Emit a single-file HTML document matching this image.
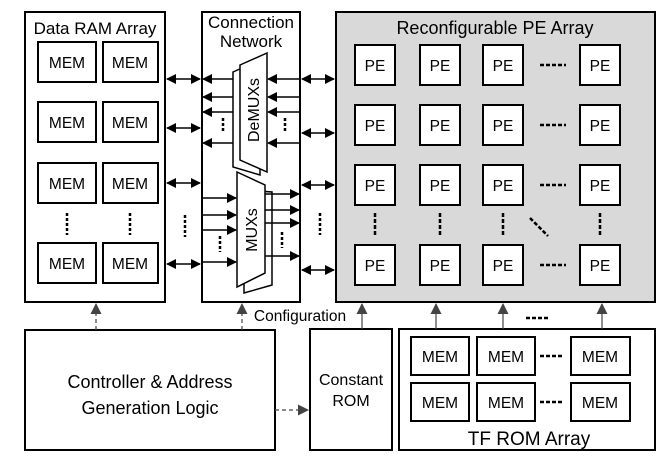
<!DOCTYPE html>
<html><head><meta charset="utf-8"><style>
html,body{margin:0;padding:0;background:#fff;}
svg{display:block;font-family:"Liberation Sans","DejaVu Sans",sans-serif;}
</style></head><body>
<svg width="669" height="462" viewBox="0 0 669 462" xmlns="http://www.w3.org/2000/svg">
<defs>
<marker id="a" markerWidth="10" markerHeight="10" refX="9" refY="5" orient="auto" markerUnits="userSpaceOnUse"><path d="M0,0 L10,5 L0,10 z" fill="#000"/></marker>
<marker id="as" markerWidth="10" markerHeight="10" refX="1" refY="5" orient="auto" markerUnits="userSpaceOnUse"><path d="M10,0 L0,5 L10,10 z" fill="#000"/></marker>
<marker id="g" markerWidth="11" markerHeight="11" refX="10" refY="5.5" orient="auto" markerUnits="userSpaceOnUse"><path d="M0,0 L11,5.5 L0,11 z" fill="#444"/></marker>
</defs>
<g stroke="#000" stroke-width="2" fill="#fff">
<rect x="25" y="12" width="140" height="290"/>
<rect x="202" y="12" width="98" height="290"/>
<rect x="336" y="12" width="319" height="290" fill="#d9d9d9"/>
<rect x="25" y="330" width="250" height="120"/>
<rect x="310" y="329" width="82" height="121"/>
<rect x="399" y="329" width="256" height="121"/>
</g>
<g font-size="17" text-anchor="middle">
<text x="95" y="34">Data RAM Array</text>
<text x="251" y="28">Connection</text>
<text x="251" y="47">Network</text>
<text x="495" y="34" font-size="18">Reconfigurable PE Array</text>
<text x="150" y="388" font-size="18">Controller &amp; Address</text>
<text x="150" y="414" font-size="18">Generation Logic</text>
<text x="351" y="385" font-size="16">Constant</text>
<text x="351" y="406" font-size="16">ROM</text>
<text x="529" y="445" font-size="19">TF ROM Array</text>
<text x="300" y="321" font-size="15.5">Configuration</text>
</g>
<g stroke="#000" stroke-width="2" fill="#fff">
<rect x="38" y="42" width="58" height="40"/><rect x="103" y="42" width="55" height="40"/>
<rect x="38" y="102" width="58" height="40"/><rect x="103" y="102" width="55" height="40"/>
<rect x="38" y="163" width="58" height="40"/><rect x="103" y="163" width="55" height="40"/>
<rect x="38" y="243" width="58" height="40"/><rect x="103" y="243" width="55" height="40"/>
</g>
<g font-size="15.5" text-anchor="middle">
<text x="67" y="68">MEM</text><text x="130" y="68">MEM</text>
<text x="67" y="128">MEM</text><text x="130" y="128">MEM</text>
<text x="67" y="189">MEM</text><text x="130" y="189">MEM</text>
<text x="67" y="269">MEM</text><text x="130" y="269">MEM</text>
</g>
<g stroke="#000" stroke-width="2.5" stroke-dasharray="3,2">
<line x1="67" y1="213" x2="67" y2="235"/><line x1="130" y1="213" x2="130" y2="235"/>
<line x1="185" y1="215" x2="185" y2="237"/><line x1="320" y1="213" x2="320" y2="235"/>
<line x1="220" y1="236" x2="220" y2="252"/><line x1="282" y1="232" x2="282" y2="248"/>
<line x1="223" y1="118" x2="223" y2="132"/><line x1="285" y1="118" x2="285" y2="132"/>
</g>
<g stroke="#000" stroke-width="2" fill="#fff">
<rect x="355" y="45" width="40" height="40"/><rect x="420" y="45" width="40" height="40"/><rect x="483" y="45" width="40" height="40"/><rect x="580" y="45" width="40" height="40"/>
<rect x="355" y="105" width="40" height="40"/><rect x="420" y="105" width="40" height="40"/><rect x="483" y="105" width="40" height="40"/><rect x="580" y="105" width="40" height="40"/>
<rect x="355" y="165" width="40" height="40"/><rect x="420" y="165" width="40" height="40"/><rect x="483" y="165" width="40" height="40"/><rect x="580" y="165" width="40" height="40"/>
<rect x="355" y="245" width="40" height="40"/><rect x="420" y="245" width="40" height="40"/><rect x="483" y="245" width="40" height="40"/><rect x="580" y="245" width="40" height="40"/>
</g>
<g font-size="15.5" text-anchor="middle">
<text x="375" y="71">PE</text><text x="440" y="71">PE</text><text x="503" y="71">PE</text><text x="600" y="71">PE</text>
<text x="375" y="131">PE</text><text x="440" y="131">PE</text><text x="503" y="131">PE</text><text x="600" y="131">PE</text>
<text x="375" y="191">PE</text><text x="440" y="191">PE</text><text x="503" y="191">PE</text><text x="600" y="191">PE</text>
<text x="375" y="271">PE</text><text x="440" y="271">PE</text><text x="503" y="271">PE</text><text x="600" y="271">PE</text>
</g>
<g stroke="#000" stroke-width="2.5" stroke-dasharray="4,2">
<line x1="540" y1="65" x2="566" y2="65"/><line x1="540" y1="125" x2="566" y2="125"/><line x1="540" y1="185" x2="566" y2="185"/><line x1="540" y1="265" x2="566" y2="265"/>
<line x1="375" y1="213" x2="375" y2="235"/><line x1="440" y1="213" x2="440" y2="235"/><line x1="503" y1="213" x2="503" y2="235"/><line x1="600" y1="213" x2="600" y2="235"/>
<line x1="530" y1="218" x2="548" y2="236"/>
<line x1="526" y1="318" x2="548" y2="318"/>
<line x1="540" y1="356" x2="562" y2="356"/><line x1="540" y1="402" x2="562" y2="402"/>
</g>
<g stroke="#000" stroke-width="1.5" marker-end="url(#a)" marker-start="url(#as)">
<line x1="167" y1="79" x2="200" y2="79"/><line x1="167" y1="128" x2="200" y2="128"/><line x1="167" y1="183" x2="200" y2="183"/><line x1="167" y1="264" x2="200" y2="264"/>
<line x1="302" y1="79" x2="334" y2="79"/><line x1="302" y1="133" x2="334" y2="133"/><line x1="302" y1="185" x2="334" y2="185"/><line x1="302" y1="270" x2="334" y2="270"/>
</g>
<g stroke="#000" stroke-width="1.5" fill="#fff">
<polygon points="233,72 260,60 260,175 233,167"/>
<polygon points="240,65 267,53 267,172 240,160"/>
<polygon points="244,190 272,192 272,285 244,293"/>
<polygon points="237,172 265,185 265,273 237,287"/>
</g>
<text x="0" y="0" font-size="16" text-anchor="middle" transform="translate(259,110) rotate(-90)">DeMUXs</text>
<text x="0" y="0" font-size="16" text-anchor="middle" transform="translate(257,230) rotate(-90)">MUXs</text>
<g stroke="#000" stroke-width="1.5" marker-end="url(#a)">
<line x1="300" y1="79" x2="268" y2="79"/><line x1="300" y1="97" x2="268" y2="97"/><line x1="300" y1="112" x2="268" y2="112"/><line x1="300" y1="143" x2="268" y2="143"/>
<line x1="233" y1="79" x2="203" y2="79"/><line x1="233" y1="97" x2="203" y2="97"/><line x1="233" y1="112" x2="203" y2="112"/><line x1="233" y1="143" x2="203" y2="143"/>
<line x1="203" y1="198" x2="236" y2="198"/><line x1="203" y1="215" x2="236" y2="215"/><line x1="203" y1="230" x2="236" y2="230"/><line x1="203" y1="262" x2="236" y2="262"/>
<line x1="265" y1="194" x2="299" y2="194"/><line x1="265" y1="210" x2="299" y2="210"/><line x1="265" y1="223" x2="299" y2="223"/><line x1="265" y1="256" x2="299" y2="256"/>
</g>
<g stroke="#444" stroke-width="1.2" fill="none">
<line x1="96" y1="330" x2="96" y2="304" stroke-dasharray="4,3" marker-end="url(#g)"/>
<line x1="242" y1="330" x2="242" y2="304" stroke-dasharray="4,3" marker-end="url(#g)"/>
<line x1="275" y1="410" x2="308" y2="410" stroke-dasharray="4,3" marker-end="url(#g)"/>
<line x1="362" y1="329" x2="362" y2="304" marker-end="url(#g)"/>
<line x1="436" y1="329" x2="436" y2="304" marker-end="url(#g)"/>
<line x1="503" y1="329" x2="503" y2="304" marker-end="url(#g)"/>
<line x1="602" y1="329" x2="602" y2="304" marker-end="url(#g)"/>
</g>
<g stroke="#000" stroke-width="2" fill="#fff">
<rect x="411" y="337" width="58" height="38"/><rect x="477" y="337" width="58" height="38"/><rect x="571" y="337" width="59" height="38"/>
<rect x="411" y="383" width="58" height="38"/><rect x="477" y="383" width="58" height="38"/><rect x="571" y="383" width="59" height="38"/>
</g>
<g font-size="15.5" text-anchor="middle">
<text x="440" y="362">MEM</text><text x="506" y="362">MEM</text><text x="600" y="362">MEM</text>
<text x="440" y="408">MEM</text><text x="506" y="408">MEM</text><text x="600" y="408">MEM</text>
</g>
</svg>
</body></html>
